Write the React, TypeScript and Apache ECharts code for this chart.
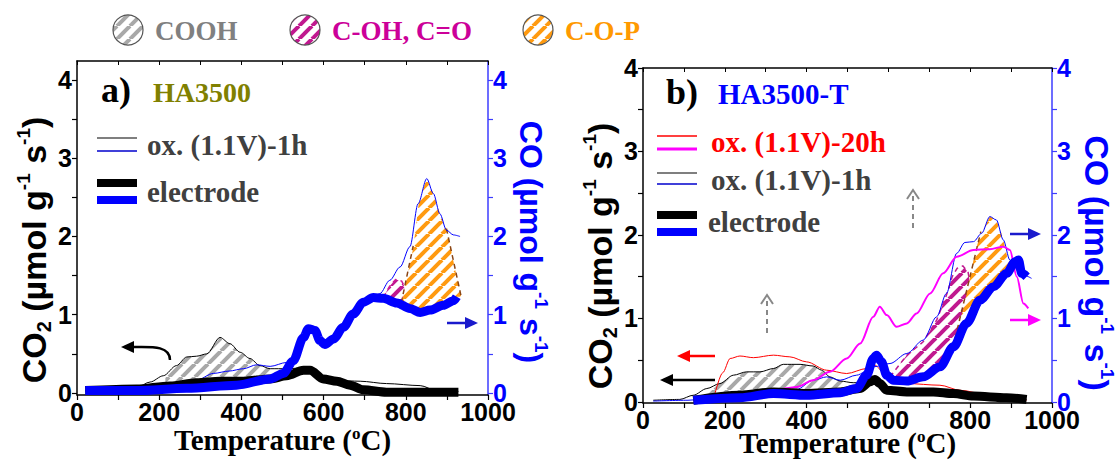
import React, { useEffect, useRef } from "react";
import * as echarts from "echarts";

// ---------------- data: [temperature ºC, rate µmol g-1 s-1] ----------------
// Panel a) HA3500
const aOx1hCO2 = [[20,0.03],[105,0.05],[145,0.07],[178,0.14],[210,0.22],[242,0.35],[267,0.46],[291,0.47],[316,0.5],[348,0.71],[372,0.63],[397,0.52],[421,0.44],[445,0.35],[470,0.31],[510,0.31],[551,0.32],[575,0.26],[599,0.18],[632,0.16],[689,0.15],[753,0.12],[835,0.094],[875,0.03],[928,0.02]];
const aElecCO2 = [[20,0.03],[145,0.05],[226,0.09],[291,0.13],[348,0.15],[405,0.15],[470,0.18],[510,0.22],[551,0.29],[567,0.29],[599,0.18],[632,0.15],[664,0.1],[697,0.04],[753,0.01],[928,0.01]];
const aOx1hCO = [[20,0.02],[145,0.03],[267,0.1],[290,0.16],[332,0.25],[370,0.28],[405,0.31],[437,0.36],[470,0.34],[510,0.39],[530,0.45],[551,0.71],[563,0.82],[579,0.8],[591,0.67],[603,0.62],[624,0.69],[648,0.84],[672,1.01],[697,1.16],[721,1.23],[737,1.27],[761,1.44],[786,1.61],[810,1.87],[830,2.42],[851,2.74],[867,2.55],[883,2.29],[899,2.08],[916,2.02],[932,2.0]];
const aElecCO = [[20,0.03],[145,0.03],[267,0.06],[388,0.1],[470,0.18],[502,0.25],[526,0.41],[551,0.71],[563,0.82],[579,0.8],[591,0.67],[603,0.62],[624,0.69],[648,0.84],[672,1.01],[697,1.16],[721,1.22],[745,1.21],[778,1.15],[810,1.08],[835,1.03],[859,1.06],[891,1.12],[916,1.18],[924,1.23]];
const aCOHUpper = [[745,1.22],[760,1.36],[775,1.45],[790,1.43],[805,1.27],[822,1.07]];
const aCOPUpper = [[789,1.15],[800,1.4],[810,1.65],[818,1.85],[824,2.1],[832,2.45],[851,2.74],[867,2.55],[883,2.29],[899,2.1],[912,1.78],[924,1.48],[936,1.2]];
const aCOPDashLeft = [[789,1.15],[818,1.88]];
const aCOPDashRight = [[899,2.1],[936,1.2]];

// Panel b) HA3500-T
const bOx20hCO2 = [[176,0.1],[195,0.35],[213,0.52],[237,0.55],[270,0.53],[319,0.56],[359,0.54],[400,0.48],[449,0.38],[498,0.34],[547,0.4],[567,0.44],[587,0.36],[612,0.24],[645,0.22],[726,0.2],[775,0.14],[848,0.08],[938,0.02]];
const bOx1hCO2 = [[25,0.02],[90,0.03],[123,0.08],[156,0.16],[188,0.22],[221,0.32],[253,0.36],[286,0.36],[319,0.4],[343,0.45],[384,0.45],[416,0.43],[437,0.38],[457,0.3],[482,0.25],[514,0.23],[547,0.23],[563,0.26],[579,0.22],[604,0.16],[645,0.14],[726,0.12],[808,0.08],[889,0.06],[938,0.03]];
const bElecCO2 = [[123,0.02],[237,0.08],[319,0.12],[400,0.1],[482,0.12],[530,0.16],[555,0.24],[567,0.27],[579,0.22],[596,0.14],[645,0.12],[710,0.12],[759,0.1],[808,0.07],[889,0.05],[938,0.03]];
const bOx20hCO = [[123,0.02],[180,0.02],[221,0.08],[262,0.12],[319,0.14],[376,0.18],[416,0.26],[457,0.36],[498,0.52],[531,0.7],[563,1.02],[579,1.14],[596,1.04],[620,0.9],[645,0.94],[669,1.06],[702,1.3],[734,1.54],[767,1.74],[808,1.82],[848,1.83],[881,1.86],[897,1.82],[914,1.5],[930,1.18],[942,1.12]];
const bOx1hCO = [[25,0.01],[110,0.02],[196,0.06],[278,0.11],[335,0.13],[376,0.15],[416,0.26],[449,0.3],[482,0.26],[522,0.32],[563,0.42],[604,0.46],[645,0.58],[685,0.74],[718,1.02],[742,1.3],[767,1.78],[787,1.91],[808,1.92],[828,2.02],[848,2.22],[864,2.18],[881,1.94],[897,1.7],[914,1.58],[930,1.52],[950,1.48]];
const bElecCO = [[123,0.02],[237,0.05],[319,0.1],[400,0.08],[482,0.11],[522,0.16],[547,0.32],[563,0.52],[571,0.56],[583,0.48],[596,0.32],[612,0.26],[645,0.25],[685,0.3],[726,0.42],[759,0.66],[791,0.94],[824,1.22],[857,1.38],[889,1.54],[910,1.68],[918,1.7],[926,1.54],[938,1.5]];
const bCOHUpper = [[604,0.3],[645,0.56],[685,0.72],[718,0.98],[742,1.28],[756,1.5],[768,1.6],[782,1.63],[795,1.55],[802,1.35],[806,1.05]];
const bCOPUpper = [[765,0.78],[785,1.15],[800,1.5],[812,1.8],[826,2.02],[838,2.12],[848,2.22],[864,2.18],[878,2.0],[890,1.75],[900,1.62]];
const bCOPDash = [[763,0.76],[826,2.04]];

const yLabelValues = [0, 1, 2, 3, 4];
const yTickValues = [0, 0.5, 1, 1.5, 2, 2.5, 3, 3.5, 4];
const legendGroups = ["COOH", "C-OH, C=O", "C-O-P"];

// ---------------- helpers ----------------
type P = number[];
const interp = (arr: P[], t: number) => {
  if (t <= arr[0][0]) return arr[0][1];
  for (let i = 1; i < arr.length; i++) {
    if (t <= arr[i][0]) {
      const [x0, y0] = arr[i - 1];
      const [x1, y1] = arr[i];
      return y0 + ((y1 - y0) * (t - x0)) / (x1 - x0);
    }
  }
  return arr[arr.length - 1][1];
};
const band = (upper: P[], lower: P[], t0: number, t1: number) => {
  const up = [[t0, interp(upper, t0)], ...upper.filter((p) => p[0] > t0 && p[0] < t1), [t1, interp(upper, t1)]];
  const lo = [[t0, interp(lower, t0)], ...lower.filter((p) => p[0] > t0 && p[0] < t1), [t1, interp(lower, t1)]].reverse();
  return [...up, ...lo];
};

function stripes(color: string, size = 13, w = 4) {
  const c = document.createElement("canvas");
  c.width = size;
  c.height = size;
  const g = c.getContext("2d")!;
  g.fillStyle = "#ffffff";
  g.fillRect(0, 0, size, size);
  g.strokeStyle = color;
  g.lineWidth = w;
  for (let k = -1; k <= 1; k++) {
    g.beginPath();
    g.moveTo(k * size, size);
    g.lineTo(k * size + size, 0);
    g.stroke();
  }
  return { image: c, repeat: "repeat", imageWidth: size, imageHeight: size } as any;
}

const SANS = "Liberation Sans";
const SERIF = "Liberation Serif";
const BLUE = "#0000ff";

export default function App() {
  const ref = useRef<HTMLDivElement>(null);
  useEffect(() => {
    if (!ref.current) return;
    const chart = echarts.init(ref.current, undefined, { renderer: "svg" });
    const grayPat = stripes("#a8a8a8");
    const magPat = stripes("#c0188f");
    const orPat = stripes("#ff9a10");

    const hatch = (poly: P[], fill: any, xi: number, yi: number, stroke?: string, dash?: number[]) => ({
      type: "custom",
      xAxisIndex: xi,
      yAxisIndex: yi,
      silent: true,
      z: 1,
      data: [[poly[0][0], poly[0][1]]],
      renderItem: (_p: any, api: any) => ({
        type: "polygon",
        shape: { points: poly.map((p) => api.coord(p)) },
        style: { fill, stroke: stroke || "none", lineWidth: 1.5, lineDash: dash },
      }),
    });
    const line = (data: P[], color: string, width: number, xi: number, yi: number, z = 3, extra: any = {}) => ({
      type: "line",
      data,
      xAxisIndex: xi,
      yAxisIndex: yi,
      showSymbol: false,
      symbol: "none",
      smooth: 0.3,
      smoothMonotone: "x",
      silent: true,
      z,
      lineStyle: { color, width, ...(extra.lineStyle || {}) },
      ...(extra.rest || {}),
    });

    const xAxisBottom = (gi: number, gap: number) => ({
      type: "value",
      gridIndex: gi,
      position: "bottom",
      min: 0,
      max: 1000,
      interval: 200,
      axisLine: { show: true, onZero: false, lineStyle: { color: "#000", width: 1.5 } },
      axisTick: { show: true, length: 5, lineStyle: { color: "#000", width: 1.2 } },
      minorTick: { show: true, splitNumber: 2, length: 5, lineStyle: { color: "#000", width: 1.2 } },
      splitLine: { show: false },
      minorSplitLine: { show: false },
      axisLabel: { fontFamily: SANS, fontWeight: "bold", fontSize: 25, color: "#000", margin: 4, formatter: (v: number) => String(v) },
      name: "Temperature ({sup|o}C)",
      nameLocation: "middle",
      nameGap: gap,
      nameMoveOverlap: false,
      nameTextStyle: {
        fontFamily: SERIF,
        fontWeight: "bold",
        fontSize: 29,
        color: "#000",
        rich: {
          sup: { fontFamily: SERIF, fontWeight: "bold", fontSize: 17, verticalAlign: "top", lineHeight: 30, padding: [0, 0, 0, 0] },
        },
      },
    });
    const xAxisTop = (gi: number) => ({
      type: "value",
      gridIndex: gi,
      position: "top",
      min: 0,
      max: 1000,
      interval: 200,
      axisLine: { show: true, onZero: false, lineStyle: { color: "#000", width: 1.5 } },
      axisTick: { show: true, inside: true, length: 4, lineStyle: { color: "#000", width: 1 } },
      minorTick: { show: true, splitNumber: 2, length: 4, lineStyle: { color: "#000", width: 1 } },
      splitLine: { show: false },
      axisLabel: { show: false },
    });
    const yAxis = (gi: number, side: "left" | "right", min: number, max: number) => {
      const col = side === "left" ? "#000" : "#3c3cff";
      return {
        type: "value",
        gridIndex: gi,
        position: side,
        min,
        max,
        axisLine: { show: true, onZero: false, lineStyle: { color: col, width: 1.5 } },
        axisTick: { show: true, length: 5, customValues: yTickValues, lineStyle: { color: col, width: 1.2 } },
        splitLine: { show: false },
        axisLabel: {
          customValues: yLabelValues,
          fontFamily: SANS,
          fontWeight: "bold",
          fontSize: 25,
          color: side === "left" ? "#000" : BLUE,
          margin: 5,
        },
      };
    };

    const txt = (x: number, y: number, text: string, size: number, color: string, family = SERIF, extra: any = {}) => ({
      type: "text",
      x,
      y,
      silent: true,
      style: { text, fill: color, font: `bold ${size}px "${family}"`, verticalAlign: "middle", ...extra },
    });
    const seg = (x1: number, y1: number, x2: number, y2: number, color: string, w: number, dash?: number[]) => ({
      type: "line",
      silent: true,
      shape: { x1, y1, x2, y2 },
      style: { stroke: color, lineWidth: w, lineDash: dash },
    });
    const rect = (x: number, y: number, w: number, h: number, color: string) => ({
      type: "rect",
      silent: true,
      shape: { x, y, width: w, height: h },
      style: { fill: color },
    });
    const head = (tipX: number, tipY: number, dir: number, color: string) => ({
      type: "polygon",
      silent: true,
      shape: { points: [[tipX, tipY], [tipX - dir * 13, tipY - 6], [tipX - dir * 13, tipY + 6]] },
      style: { fill: color },
    });
    const arrowH = (x1: number, x2: number, y: number, color: string) => {
      const dir = x2 > x1 ? 1 : -1;
      return [seg(x1, y, x2 - dir * 10, y, color, 2.5), head(x2, y, dir, color)];
    };
    const upDash = (x: number, y1: number, y2: number) => [
      seg(x, y1, x, y2 + 3, "#888", 2, [5, 4]),
      { type: "polyline", silent: true, shape: { points: [[x - 6, y2 + 9], [x, y2], [x + 6, y2 + 9]] }, style: { stroke: "#888", lineWidth: 2, fill: "none" } },
    ];

    const yTitleRich = {
      b: { fontFamily: SANS, fontWeight: "bold", fontSize: 33, lineHeight: 40 },
      sub: { fontFamily: SANS, fontWeight: "bold", fontSize: 20, verticalAlign: "bottom", lineHeight: 28 },
      sup: { fontFamily: SANS, fontWeight: "bold", fontSize: 19, verticalAlign: "top", lineHeight: 36 },
    };
    const yTitle = (x: number, y: number, co2: boolean, color: string, rot: number, size: number) => ({
      type: "text",
      x,
      y,
      rotation: rot,
      silent: true,
      style: {
        text: co2
          ? "{b|CO}{sub|2}{b| (µmol g}{sup|-1}{b| s}{sup|-1}{b|)}"
          : "{b|CO (µmol g}{sup|-1}{b| s}{sup|-1}{b|)}",
        fill: color,
        align: "center",
        verticalAlign: "middle",
        rich: {
          b: { ...yTitleRich.b, fontSize: size, fill: color },
          sub: { ...yTitleRich.sub, fill: color },
          sup: { ...yTitleRich.sup, fill: color },
        },
      },
    });

    const legendColors = ["#808080", "#cc0099", "#ff9900"];
    const legendPats = [grayPat, magPat, orPat];
    const legendX = [128, 305, 538];
    const topLegend: any[] = [];
    legendGroups.forEach((name, i) => {
      topLegend.push({
        type: "circle",
        silent: true,
        shape: { cx: legendX[i], cy: 30, r: 15 },
        style: { fill: legendPats[i], stroke: "#555", lineWidth: 1.2 },
      });
      topLegend.push(txt(legendX[i] + 27, 31, name, 27, legendColors[i]));
    });

    const graphics: any[] = [
      ...topLegend,
      // panel a annotations
      txt(101, 90, "a)", 36, "#000"),
      txt(153, 92, "HA3500", 28, "#808000"),
      seg(97, 138, 137, 138, "#000", 1.2),
      seg(97, 151, 137, 151, "#0000cc", 1.6),
      txt(147, 145, "ox. (1.1V)-1h", 29, "#404040"),
      rect(97, 179, 40, 8, "#000"),
      rect(97, 196, 40, 8, BLUE),
      txt(147, 192, "electrode", 29, "#404040"),
      {
        type: "bezierCurve",
        silent: true,
        shape: { x1: 170, y1: 360, cpx1: 170, cpy1: 345, cpx2: 150, cpy2: 347, x2: 133, y2: 347 },
        style: { stroke: "#000", lineWidth: 2.5, fill: "none" },
      },
      head(121, 347, -1, "#000"),
      ...arrowH(447, 478, 323, "#1a1acc"),
      // panel b annotations
      txt(666, 92, "b)", 36, "#000"),
      txt(718, 94, "HA3500-T", 29, BLUE),
      seg(657, 136, 697, 136, "#ff0000", 1.4),
      seg(657, 149, 697, 149, "#ff00ff", 3),
      txt(711, 142, "ox. (1.1V)-20h", 29, "#ff0000"),
      seg(657, 173, 697, 173, "#000", 1.2),
      seg(657, 184, 697, 184, "#0000cc", 1.6),
      txt(711, 180, "ox. (1.1V)-1h", 29, "#404040"),
      rect(657, 211, 40, 8, "#000"),
      rect(657, 228, 40, 8, BLUE),
      txt(708, 222, "electrode", 29, "#404040"),
      ...arrowH(715, 677, 356, "#ff0000"),
      ...arrowH(715, 660, 380, "#000"),
      ...arrowH(1010, 1041, 234, "#1a1acc"),
      ...arrowH(1010, 1041, 320, "#ff00ff"),
      ...upDash(767, 333, 295),
      ...upDash(913, 228, 190),
      // axis titles
      yTitle(34, 250, true, "#000", Math.PI / 2, 34),
      yTitle(600, 256, true, "#000", Math.PI / 2, 34),
      yTitle(531, 242, false, BLUE, -Math.PI / 2, 32),
      yTitle(1097, 263, false, BLUE, -Math.PI / 2, 34),
    ];

    const option: any = {
      animation: false,
      backgroundColor: "#fff",
      grid: [
        { left: 77, right: 631, top: 61, bottom: 65, containLabel: false, outerBoundsMode: "none" },
        { left: 643, right: 67, top: 68, bottom: 57, containLabel: false, outerBoundsMode: "none" },
      ],
      xAxis: [xAxisBottom(0, 30), xAxisTop(0), xAxisBottom(1, 25), xAxisTop(1)],
      yAxis: [yAxis(0, "left", -0.026, 4.243), yAxis(0, "right", -0.026, 4.243), yAxis(1, "left", -0.013, 4), yAxis(1, "right", -0.013, 4)],
      series: [
        // panel a hatches
        hatch(band(aOx1hCO2, aElecCO2, 215, 470), grayPat, 0, 0),
        hatch(band(aCOHUpper, aElecCO, 745, 822), magPat, 0, 1, "#d01a9a", [5, 4]),
        hatch(band(aCOPUpper, aElecCO, 789, 936), orPat, 0, 1),
        line(aCOPDashLeft, "#8b4513", 1.5, 0, 1, 2, { lineStyle: { type: [5, 4] }, rest: { smooth: false } }),
        line(aCOPDashRight, "#8b4513", 1.5, 0, 1, 2, { lineStyle: { type: [5, 4] }, rest: { smooth: false } }),
        // panel a lines
        line(aOx1hCO2, "#000", 1, 0, 0),
        line(aOx1hCO, BLUE, 1, 0, 1),
        line(aElecCO2, "#000", 9, 0, 0, 4),
        line(aElecCO, BLUE, 9, 0, 1, 5),
        // panel b hatches
        hatch(band(bOx1hCO2, bElecCO, 150, 490), grayPat, 2, 2),
        hatch(band(bCOHUpper, bElecCO, 604, 806), magPat, 2, 3, "#c0188f", [5, 4]),
        hatch(band(bCOPUpper, bElecCO, 765, 900), orPat, 2, 3),
        line(bCOPDash, "#8b4513", 1.5, 2, 3, 2, { lineStyle: { type: [5, 4] }, rest: { smooth: false } }),
        // panel b lines
        line(bOx1hCO2, "#000", 1, 2, 2),
        line(bOx20hCO2, "#ff0000", 1, 2, 2),
        line(bOx1hCO, BLUE, 1, 2, 3),
        line(bOx20hCO, "#ff00ff", 2, 2, 3),
        line(bElecCO2, "#000", 9, 2, 2, 4),
        line(bElecCO, BLUE, 9, 2, 3, 5),
      ],
      graphic: graphics,
    };
    chart.setOption(option);
    return () => chart.dispose();
  }, []);
  return <div ref={ref} style={{ position: "absolute", left: 0, top: 0, width: 1119, height: 460 }} />;
}
